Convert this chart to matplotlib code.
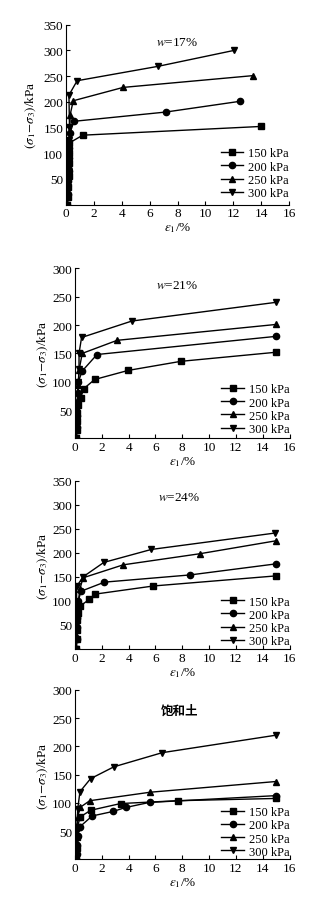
import numpy as np
import matplotlib.pyplot as plt

plt.rcParams['font.family'] = ['Liberation Serif', 'DejaVu Serif']
plt.rcParams['mathtext.fontset'] = 'stix'

# pressure labels and marker per confining pressure
labels = ['150 kPa', '200 kPa', '250 kPa', '300 kPa']
markers = ['s', 'o', '^', 'v']

# w = 17%
w17_150_x = [0.1, 0.12, 0.15, 0.18, 0.2, 0.22, 0.25, 1.2, 14.0]
w17_150_y = [0, 15, 35, 55, 80, 100, 120, 135, 152]
w17_200_x = [0.1, 0.12, 0.15, 0.18, 0.2, 0.25, 0.3, 0.57, 7.15, 12.5]
w17_200_y = [0, 20, 45, 65, 90, 110, 140, 162, 180, 201]
w17_250_x = [0.1, 0.12, 0.15, 0.18, 0.2, 0.25, 0.3, 0.52, 4.1, 13.45]
w17_250_y = [0, 25, 50, 75, 100, 125, 175, 202, 228, 251]
w17_300_x = [0.1, 0.12, 0.15, 0.2, 0.22, 0.25, 0.21, 0.8, 6.6, 12.05]
w17_300_y = [0, 30, 60, 95, 125, 150, 213, 241, 269, 300]

# w = 21%
w21_150_x = [0.1, 0.12, 0.15, 0.18, 0.22, 0.42, 0.66, 1.47, 3.97, 7.9, 15.0]
w21_150_y = [0, 15, 30, 45, 59, 72, 88, 104, 120, 136, 152]
w21_200_x = [0.1, 0.12, 0.15, 0.18, 0.2, 0.25, 0.54, 1.64, 15.0]
w21_200_y = [0, 20, 40, 60, 80, 100, 119, 148, 180]
w21_250_x = [0.1, 0.12, 0.15, 0.2, 0.25, 0.3, 0.54, 3.14, 15.0]
w21_250_y = [0, 20, 45, 70, 95, 120, 150, 173, 201]
w21_300_x = [0.1, 0.12, 0.15, 0.2, 0.25, 0.3, 0.3, 0.49, 4.24, 15.0]
w21_300_y = [0, 25, 50, 75, 100, 122, 150, 178, 207, 240]

# w = 24%
w24_150_x = [0.1, 0.12, 0.15, 0.18, 0.2, 0.37, 1.06, 1.48, 5.85, 15.0]
w24_150_y = [0, 20, 40, 60, 75, 89, 103, 114, 131, 152]
w24_200_x = [0.1, 0.12, 0.15, 0.18, 0.2, 0.25, 0.44, 2.2, 8.6, 15.0]
w24_200_y = [0, 20, 45, 65, 85, 100, 120, 139, 154, 177]
w24_250_x = [0.1, 0.12, 0.15, 0.2, 0.25, 0.37, 0.6, 3.6, 9.3, 15.0]
w24_250_y = [0, 25, 50, 75, 100, 125, 148, 175, 198, 225]
w24_300_x = [0.1, 0.1, 0.12, 0.12, 0.6, 2.15, 5.7, 14.9]
w24_300_y = [0, 40, 80, 130, 150, 180, 207, 241]

# saturated soil
sat_150_x = [0.1, 0.12, 0.15, 0.2, 0.37, 1.16, 3.4, 7.65, 15.0]
sat_150_y = [0, 20, 40, 58, 75, 87, 99, 104, 108]
sat_200_x = [0.1, 0.12, 0.15, 0.2, 0.37, 1.28, 2.84, 3.78, 5.56, 15.0]
sat_200_y = [0, 10, 25, 42, 58, 77, 85, 92, 101, 113]
sat_250_x = [0.1, 0.12, 0.15, 0.2, 0.37, 1.1, 5.6, 15.0]
sat_250_y = [0, 30, 60, 75, 92, 104, 119, 138]
sat_300_x = [0.1, 0.1, 0.15, 0.2, 0.37, 1.16, 2.9, 6.5, 15.0]
sat_300_y = [0, 20, 50, 89, 120, 143, 164, 189, 220]

panels = [
    dict(xs=[w17_150_x, w17_200_x, w17_250_x, w17_300_x],
         ys=[w17_150_y, w17_200_y, w17_250_y, w17_300_y],
         title=r'$w$=17%', tpos=(8.0, 316), ymax=350,
         rect=[0.1988, 0.7724, 0.6717, 0.1991], lab_pad=3.5, leg_y=0.03),
    dict(xs=[w21_150_x, w21_200_x, w21_250_x, w21_300_x],
         ys=[w21_150_y, w21_200_y, w21_250_y, w21_300_y],
         title=r'$w$=21%', tpos=(7.6, 271), ymax=300,
         rect=[0.2259, 0.5133, 0.6461, 0.1885], lab_pad=1.5, leg_y=0.02),
    dict(xs=[w24_150_x, w24_200_x, w24_250_x, w24_300_x],
         ys=[w24_150_y, w24_200_y, w24_250_y, w24_300_y],
         title=r'$w$=24%', tpos=(7.8, 316), ymax=350,
         rect=[0.2259, 0.2802, 0.6461, 0.1864], lab_pad=1.5, leg_y=0.01),
    dict(xs=[sat_150_x, sat_200_x, sat_250_x, sat_300_x],
         ys=[sat_150_y, sat_200_y, sat_250_y, sat_300_y],
         title='饱和土', tpos=(7.8, 265), ymax=300,
         rect=[0.2259, 0.0471, 0.6461, 0.1877], lab_pad=1.5, leg_y=0.01),
]

fig = plt.figure(figsize=(3.32, 9.03), dpi=100)

for p in panels:
    ax = fig.add_axes(p['rect'])
    for x, y, m, lab in zip(p['xs'], p['ys'], markers, labels):
        ax.plot(x, y, color='black', lw=1.0, marker=m, ms=4.5, label=lab)
    ax.set_xlim(0, 16)
    ax.set_ylim(0, p['ymax'])
    ax.set_xticks(np.arange(0, 17, 2))
    ax.set_yticks(np.arange(50, p['ymax'] + 1, 50))
    ax.spines['top'].set_visible(False)
    ax.spines['right'].set_visible(False)
    ax.tick_params(direction='in', length=3, width=0.8, labelsize=9.5, pad=2)
    ax.set_xlabel(r'$\varepsilon_1$/%', fontsize=9.5, labelpad=1)
    ax.set_ylabel(r'$(\sigma_1\!-\!\sigma_3)$/kPa', fontsize=9.5, labelpad=p['lab_pad'])
    if p['title'] == '饱和土':
        ax.text(*p['tpos'], p['title'], ha='center', va='center', fontsize=9,
                family=['Noto Sans CJK SC', 'DejaVu Sans'], weight='bold')
    else:
        ax.text(*p['tpos'], p['title'], ha='center', va='center', fontsize=9.5)
    ax.legend(loc='lower right', bbox_to_anchor=(1.0, p['leg_y']), frameon=False,
              fontsize=9, handlelength=1.8, handletextpad=0.4, labelspacing=0.1,
              borderpad=0, borderaxespad=0)

fig.savefig('out.png', dpi=100)
